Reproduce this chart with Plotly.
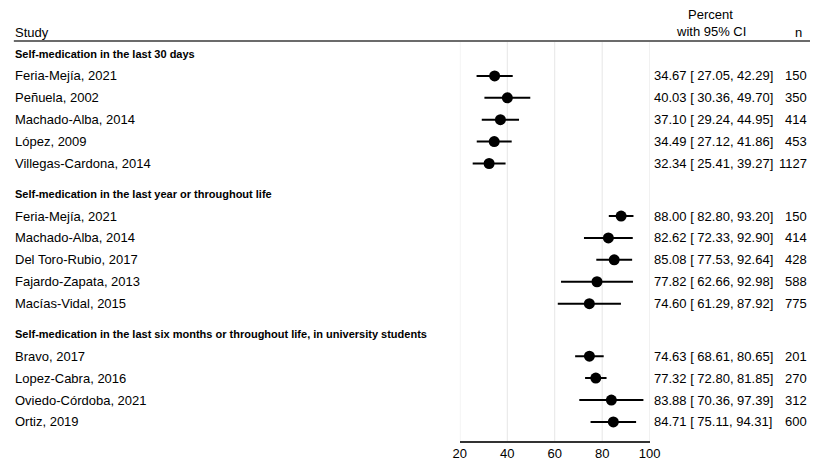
import plotly.graph_objects as go

groups = [
    "Self-medication in the last 30 days",
    "Self-medication in the last year or throughout life",
    "Self-medication in the last six months or throughout life, in university students",
]
studies = [
    ["Feria-Mejía, 2021", "Peñuela, 2002", "Machado-Alba, 2014", "López, 2009", "Villegas-Cardona, 2014"],
    ["Feria-Mejía, 2021", "Machado-Alba, 2014", "Del Toro-Rubio, 2017", "Fajardo-Zapata, 2013", "Macías-Vidal, 2015"],
    ["Bravo, 2017", "Lopez-Cabra, 2016", "Oviedo-Córdoba, 2021", "Ortiz, 2019"],
]
percent = [
    [34.67, 40.03, 37.10, 34.49, 32.34],
    [88.00, 82.62, 85.08, 77.82, 74.60],
    [74.63, 77.32, 83.88, 84.71],
]
ci_low = [
    [27.05, 30.36, 29.24, 27.12, 25.41],
    [82.80, 72.33, 77.53, 62.66, 61.29],
    [68.61, 72.80, 70.36, 75.11],
]
ci_high = [
    [42.29, 49.70, 44.95, 41.86, 39.27],
    [93.20, 92.90, 92.64, 92.98, 87.92],
    [80.65, 81.85, 97.39, 94.31],
]
n_obs = [
    [150, 350, 414, 453, 1127],
    [150, 414, 428, 588, 775],
    [201, 270, 312, 600],
]
x_ticks = [20, 40, 60, 80, 100]

W, H = 821, 461
FONT = "Liberation Sans, Arial, sans-serif"
GAP = 1.4

# compute row positions
ys_all, xs, lo, hi, head_y = [], [], [], [], []
y = 0.0
for g in range(len(groups)):
    head_y.append(y)
    for j in range(len(studies[g])):
        y += 1
        ys_all.append(y)
        xs.append(percent[g][j])
        lo.append(percent[g][j] - ci_low[g][j])
        hi.append(ci_high[g][j] - percent[g][j])
    y += GAP

fig = go.Figure()
fig.add_trace(go.Scatter(
    x=xs, y=ys_all, mode="markers",
    marker=dict(color="black", size=11),
    error_x=dict(type="data", symmetric=False, array=hi, arrayminus=lo,
                 color="black", thickness=2, width=0),
    showlegend=False, hoverinfo="skip",
))

ann = []
def px(xp):
    return xp / W
def py(yp):
    return (H - yp) / H

k = 0
for g in range(len(groups)):
    ann.append(dict(x=px(6), xref="paper", y=head_y[g], yref="y", text="<b>" + groups[g] + "</b>",
                    showarrow=False, xanchor="left", yanchor="middle",
                    font=dict(size=11, color="black", family=FONT)))
    for j in range(len(studies[g])):
        yy = ys_all[k]
        ann.append(dict(x=px(6), xref="paper", y=yy, yref="y", text=studies[g][j],
                        showarrow=False, xanchor="left", yanchor="middle",
                        font=dict(size=13, color="black", family=FONT)))
        txt = "%.2f [ %.2f, %.2f]" % (percent[g][j], ci_low[g][j], ci_high[g][j])
        ann.append(dict(x=px(659), xref="paper", y=yy, yref="y", text=txt,
                        showarrow=False, xanchor="left", yanchor="middle",
                        font=dict(size=13, color="black", family=FONT)))
        ann.append(dict(x=px(820), xref="paper", y=yy, yref="y", text=str(n_obs[g][j]),
                        showarrow=False, xanchor="right", yanchor="middle",
                        font=dict(size=13, color="black", family=FONT)))
        k += 1

hdr_font = dict(size=13, color="black", family=FONT)
ann.append(dict(x=px(6), xref="paper", y=py(33), yref="paper", text="Study", showarrow=False,
                xanchor="left", yanchor="middle", font=hdr_font))
ann.append(dict(x=px(719), xref="paper", y=py(15), yref="paper", text="Percent", showarrow=False,
                xanchor="center", yanchor="middle", font=hdr_font))
ann.append(dict(x=px(720), xref="paper", y=py(32), yref="paper", text="with 95% CI", showarrow=False,
                xanchor="center", yanchor="middle", font=hdr_font))
ann.append(dict(x=px(809), xref="paper", y=py(33), yref="paper", text="n", showarrow=False,
                xanchor="center", yanchor="middle", font=hdr_font))

y_top = (41 - 54) / 21.9
y_bot = (441 - 54) / 21.9

shapes = [dict(type="line", xref="paper", yref="paper", x0=px(7), x1=1,
               y0=py(41), y1=py(41), line=dict(color="#6b6b6b", width=2))]
for t in x_ticks:
    shapes.append(dict(type="line", xref="x", yref="paper", x0=t, x1=t,
                       y0=py(441), y1=py(42), layer="below",
                       line=dict(color="#e6e6e6", width=1)))

fig.update_layout(
    width=W, height=H, autosize=False,
    margin=dict(l=0, r=0, t=0, b=0),
    paper_bgcolor="white", plot_bgcolor="white",
    annotations=ann,
    shapes=shapes,
    xaxis=dict(domain=[px(463), px(657)], range=[20, 100], tickvals=x_ticks,
               showgrid=False,
               showline=True, linecolor="#333333", linewidth=1.5,
               ticks="", zeroline=False,
               tickfont=dict(size=13, color="black", family=FONT)),
    yaxis=dict(domain=[py(441), py(41)], range=[y_bot, y_top], visible=False),
)

fig.write_html("out.html", config={"displayModeBar": False, "responsive": False},
               post_script="document.body.style.margin='0';document.body.style.overflow='hidden';")
